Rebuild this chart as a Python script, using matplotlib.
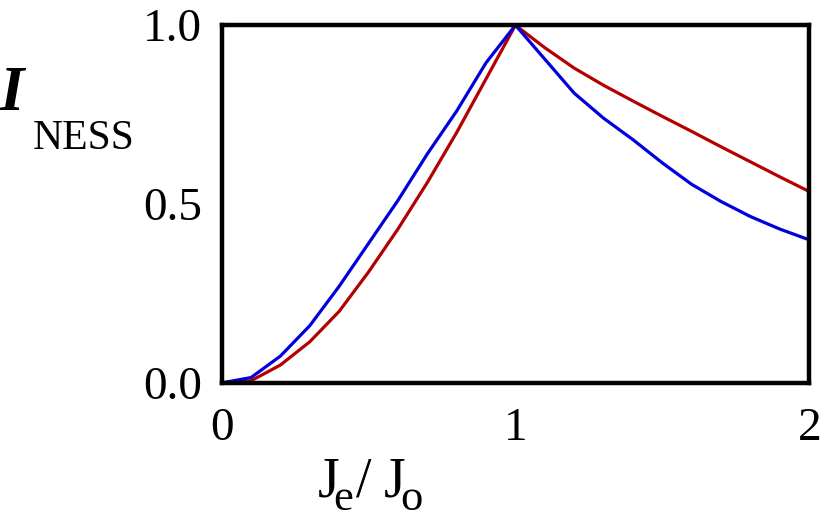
import matplotlib.pyplot as plt

plt.rcParams['font.family'] = ['Liberation Serif', 'DejaVu Serif']

# J_e / J_o values
ratio = [0.0, 0.1, 0.2, 0.3, 0.4, 0.5, 0.6, 0.7, 0.8, 0.9, 1.0,
         1.1, 1.2, 1.3, 1.4, 1.5, 1.6, 1.7, 1.8, 1.9, 2.0]
# I_NESS curves
blue_curve = [0.0, 0.015, 0.075, 0.16, 0.27, 0.39, 0.51, 0.64, 0.76, 0.895, 1.0,
              0.905, 0.81, 0.74, 0.68, 0.615, 0.555, 0.507, 0.465, 0.43, 0.40]
red_curve = [0.0, 0.006, 0.05, 0.115, 0.20, 0.31, 0.43, 0.56, 0.70, 0.85, 1.0,
             0.937, 0.88, 0.832, 0.788, 0.745, 0.703, 0.66, 0.618, 0.576, 0.535]

x_ticks = [0, 1, 2]
x_tick_labels = ['0', '1', '2']
y_ticks = [0.0, 0.5, 1.0]
y_tick_labels = ['0.0', '0.5', '1.0']

fig = plt.figure(figsize=(8.3, 5.14), dpi=100)
ax = fig.add_axes([0.267, 0.255, 0.708, 0.696])

ax.plot(ratio, red_curve, color='#b30000', lw=2.3, clip_on=False)
ax.plot(ratio, blue_curve, color='#0000dd', lw=2.3, clip_on=False)

ax.set_xlim(0, 2)
ax.set_ylim(0, 1)
ax.set_xticks(x_ticks)
ax.set_xticklabels(x_tick_labels)
ax.set_yticks(y_ticks)
ax.set_yticklabels(y_tick_labels)
ax.tick_params(length=0, labelsize=34, pad=14)
ax.tick_params(axis='x', pad=18)
for s in ax.spines.values():
    s.set_linewidth(3.2)

# y label: I with subscript NESS
fig.text(0.0, 0.786, 'I', fontsize=45, style='italic', weight='bold',
         ha='left', va='baseline')
fig.text(0.039, 0.71, 'NESS', fontsize=30, ha='left', va='baseline')

# x label: J_e / J_o
fig.text(0.383, 0.035, 'J', fontsize=40, ha='left', va='baseline')
fig.text(0.402, 0.008, 'e', fontsize=32, ha='left', va='baseline')
fig.text(0.429, 0.035, '/', fontsize=40, ha='left', va='baseline')
fig.text(0.463, 0.035, 'J', fontsize=40, ha='left', va='baseline')
fig.text(0.482, 0.008, 'o', fontsize=32, ha='left', va='baseline')

fig.savefig('out.png', dpi=100)
